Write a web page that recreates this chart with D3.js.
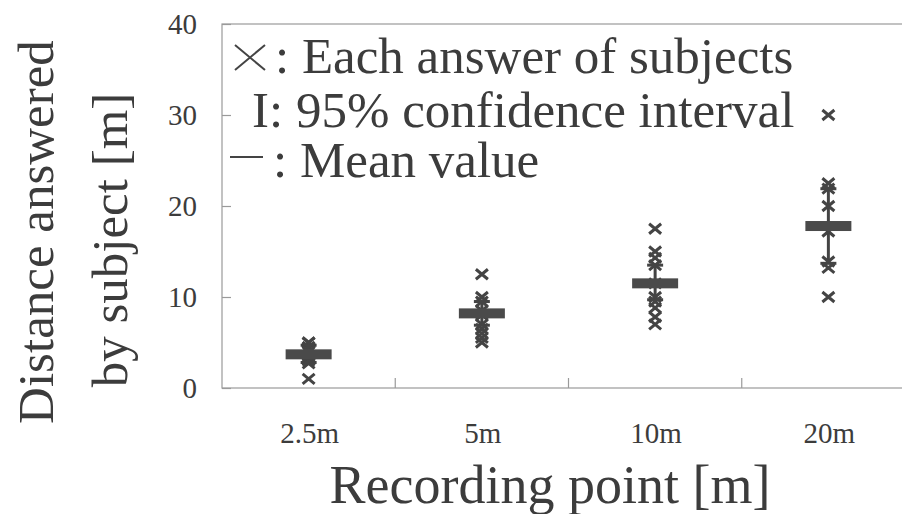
<!DOCTYPE html>
<html>
<head>
<meta charset="utf-8">
<script src="https://cdn.jsdelivr.net/npm/d3@7"></script>
<style>
  html, body { margin: 0; padding: 0; background: #fff; }
  svg { display: block; }
  text { font-family: "Liberation Serif", "Times New Roman", serif; fill: #3c3c3c; }
</style>
</head>
<body>
<svg id="chart" width="902" height="514"></svg>
<script>
// ---- data ----
const categories = ["2.5m", "5m", "10m", "20m"];
const answers2_5 = [1, 2.7, 3, 3.5, 4, 4.5, 5, 5, 4.5, 4];
const answers5   = [12.5, 10, 9.5, 8.5, 8, 7, 6.5, 6, 5.5, 5];
const answers10  = [17.5, 15, 14.3, 13.5, 11.5, 10, 9.5, 8.8, 7.8, 7];
const answers20  = [30, 22.5, 21.9, 20, 17.2, 13.9, 13.2, 10];
const means      = [3.7, 8.2, 11.5, 17.8];
const ciLow      = [2.8, 6.9, 9.7, 13.7];
const ciHigh     = [4.7, 9.5, 13.5, 21.9];
const yTicks     = [0, 10, 20, 30, 40];
const legendLines = [": Each answer of subjects", "I: 95% confidence interval", ": Mean value"];
const xTitle = "Recording point [m]";
const yTitle1 = "Distance answered";
const yTitle2 = "by subject [m]";

const answers = [answers2_5, answers5, answers10, answers20];

// ---- layout ----
const svg = d3.select("#chart");
const mLeft = 222, mTop = 24, mBottom = 388, mRight = 915;
const ink = "#444";

const x = d3.scaleBand().domain(categories).range([mLeft, mRight]);
const y = d3.scaleLinear().domain([0, 40]).range([mBottom, mTop]);

// frame
svg.append("rect")
  .attr("x", mLeft).attr("y", mTop)
  .attr("width", mRight - mLeft).attr("height", mBottom - mTop)
  .attr("fill", "none").attr("stroke", "#9a9a9a").attr("stroke-width", 1.2);

// y axis (ticks inward)
const yAxis = svg.append("g")
  .attr("transform", `translate(${mLeft},0)`)
  .call(d3.axisRight(y).tickValues(yTicks).tickSize(9).tickFormat(""));
yAxis.select(".domain").remove();
yAxis.selectAll(".tick line").attr("stroke", "#9a9a9a").attr("stroke-width", 1.2);

svg.append("g").selectAll("text").data(yTicks).join("text")
  .attr("x", 197).attr("y", d => y(d))
  .attr("dy", "0.33em")
  .attr("text-anchor", "end")
  .attr("font-size", 29)
  .text(d => d);

// x axis: category boundaries ticks inward
const bounds = categories.slice(1).map(c => x(c));
svg.append("g").selectAll("line").data(bounds).join("line")
  .attr("x1", d => d).attr("x2", d => d)
  .attr("y1", mBottom).attr("y2", mBottom - 10)
  .attr("stroke", "#9a9a9a").attr("stroke-width", 1.2);

svg.append("g").selectAll("text").data(categories).join("text")
  .attr("x", d => x(d) + x.bandwidth() / 2 + 1)
  .attr("y", 443)
  .attr("text-anchor", "middle")
  .attr("font-size", 29)
  .text(d => d);

// titles
svg.append("text")
  .attr("x", 550).attr("y", 503)
  .attr("text-anchor", "middle")
  .attr("font-size", 54)
  .text(xTitle);

svg.append("text")
  .attr("transform", "translate(53,232) rotate(-90)")
  .attr("text-anchor", "middle")
  .attr("font-size", 51)
  .text(yTitle1);
svg.append("text")
  .attr("transform", "translate(127,240) rotate(-90)")
  .attr("text-anchor", "middle")
  .attr("font-size", 51)
  .text(yTitle2);

// legend
const lg = svg.append("g");
lg.append("path")
  .attr("d", "M235,45 L265,70 M265,45 L235,70")
  .attr("stroke", ink).attr("stroke-width", 2).attr("fill", "none");
lg.append("line")
  .attr("x1", 230).attr("x2", 263).attr("y1", 157).attr("y2", 157)
  .attr("stroke", ink).attr("stroke-width", 2);
const legX = [275, 252, 273];
const legY = [73, 127, 177];
lg.selectAll("text.leg").data(legendLines).join("text")
  .attr("class", "leg")
  .attr("x", (d, i) => legX[i]).attr("y", (d, i) => legY[i])
  .attr("font-size", 51)
  .text(d => d);

// marks
const cx = c => x(c) + x.bandwidth() / 2;
const g = svg.append("g");

// CI lines and caps
categories.forEach((c, i) => {
  const xc = cx(c);
  g.append("line")
    .attr("x1", xc).attr("x2", xc)
    .attr("y1", y(ciLow[i])).attr("y2", y(ciHigh[i]))
    .attr("stroke", ink).attr("stroke-width", 3);
  [ciLow[i], ciHigh[i]].forEach(v => {
    g.append("line")
      .attr("x1", xc - 8).attr("x2", xc + 8)
      .attr("y1", y(v)).attr("y2", y(v))
      .attr("stroke", ink).attr("stroke-width", 3);
  });
});

// each answer crosses
categories.forEach((c, i) => {
  const xc = cx(c);
  g.append("g").selectAll("path").data(answers[i]).join("path")
    .attr("d", v => {
      const yy = y(v), w = 6, h = 5;
      return `M${xc - w},${yy - h} L${xc + w},${yy + h} M${xc + w},${yy - h} L${xc - w},${yy + h}`;
    })
    .attr("stroke", ink).attr("stroke-width", 3).attr("fill", "none");
});

// mean bars
g.append("g").selectAll("rect").data(means).join("rect")
  .attr("x", (d, i) => cx(categories[i]) - 23)
  .attr("y", d => y(d) - 5)
  .attr("width", 46).attr("height", 10)
  .attr("fill", "#4a4a4a");
</script>
</body>
</html>
